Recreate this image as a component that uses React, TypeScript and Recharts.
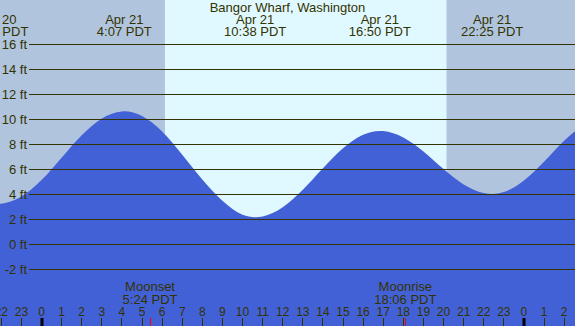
import React from 'react';
import { ComposedChart, Area, XAxis, YAxis, ReferenceArea, ReferenceLine } from 'recharts';

// ---------- data ----------
const tideHours = [-3, -2.2, -2, -1, 0, 1, 2, 3, 4, 4.12, 5, 6, 7, 8, 9, 10, 10.63, 11, 12, 13, 14, 15, 16, 16.83, 17, 18, 19, 20, 21, 22, 22.42, 23, 24, 25, 26, 27];
const tideFeet = [3.36, 3.25, 3.27, 3.84, 5.16, 6.95, 8.74, 10.09, 10.65, 10.66, 10.28, 9.04, 7.19, 5.2, 3.5, 2.39, 2.19, 2.25, 2.99, 4.39, 6.11, 7.71, 8.79, 9.09, 9.08, 8.56, 7.44, 6.04, 4.81, 4.12, 4.05, 4.2, 5.13, 6.63, 8.3, 9.64];

const eventHours = [-2.2, 4.12, 10.63, 16.83, 22.42];
const eventDates = ['Apr 20', 'Apr 21', 'Apr 21', 'Apr 21', 'Apr 21'];
const eventClocks = ['21:48 PDT', '4:07 PDT', '10:38 PDT', '16:50 PDT', '22:25 PDT'];

const moonHours = [5.4, 18.1];
const moonNames = ['Moonset', 'Moonrise'];
const moonClocks = ['5:24 PDT', '18:06 PDT'];

const hourTicks = [-2, -1, 0, 1, 2, 3, 4, 5, 6, 7, 8, 9, 10, 11, 12, 13, 14, 15, 16, 17, 18, 19, 20, 21, 22, 23, 24, 25, 26];
const hourLabels = ['22', '23', '0', '1', '2', '3', '4', '5', '6', '7', '8', '9', '10', '11', '12', '13', '14', '15', '16', '17', '18', '19', '20', '21', '22', '23', '0', '1', '2'];
const midnightHours = [0, 24];

const feetTicks = [16, 14, 12, 10, 8, 6, 4, 2, 0, -2];
const feetLabels = ['16 ft', '14 ft', '12 ft', '10 ft', '8 ft', '6 ft', '4 ft', '2 ft', '0 ft', '-2 ft'];

const sunrise = 6.14;
const sunset = 20.16;

// ---------- layout ----------
const W = 575;
const H = 326;
const X_MIN = -2.065;
const X_MAX = 26.54;
const Y_MIN = -6.52;
const Y_MAX = 19.56;
const GRID_START = -0.62;

const FONT = '"Liberation Sans", Arial, Helvetica, sans-serif';
const INK = '#333300';
const NIGHT = '#B0C4DE';
const DAY = '#E0F8FF';
const WATER = '#4361D6';

const data = tideHours.map((t, i) => ({ t, h: tideFeet[i] }));

const crisp = (x: number) => Math.round(x - 0.5) + 0.5;

const EventTick = (props: any) => {
  const { x, payload } = props;
  const i = eventHours.indexOf(payload.value);
  if (i < 0) return null;
  return (
    <g>
      <text x={x} y={24} textAnchor="middle" fontFamily={FONT} fontSize={13} fill={INK}>{eventDates[i]}</text>
      <text x={x} y={36} textAnchor="middle" fontFamily={FONT} fontSize={13} fill={INK}>{eventClocks[i]}</text>
    </g>
  );
};

const HourTick = (props: any) => {
  const { x, payload } = props;
  const i = hourTicks.indexOf(payload.value);
  if (i < 0) return null;
  const mid = midnightHours.includes(payload.value);
  const cx = mid ? Math.round(x) : crisp(x);
  return (
    <g>
      <line x1={cx} x2={cx} y1={318} y2={326} stroke={mid ? '#000000' : INK} strokeWidth={mid ? 3 : 1} />
      <text x={x} y={316} textAnchor="middle" fontFamily={FONT} fontSize={12} fill={INK}>{hourLabels[i]}</text>
    </g>
  );
};

const MoonTick = (props: any) => {
  const { x, payload } = props;
  const i = moonHours.indexOf(payload.value);
  if (i < 0) return null;
  const cx = crisp(x);
  return (
    <g>
      <line x1={cx} x2={cx} y1={318} y2={326} stroke="#FF0000" strokeWidth={1} />
      <text x={x} y={291} textAnchor="middle" fontFamily={FONT} fontSize={13} fill={INK}>{moonNames[i]}</text>
      <text x={x} y={303.5} textAnchor="middle" fontFamily={FONT} fontSize={13} fill={INK}>{moonClocks[i]}</text>
    </g>
  );
};

export default function App() {
  return (
    <div style={{ position: 'absolute', left: 0, top: 0, width: W, height: H, overflow: 'hidden', background: NIGHT }}>
      <ComposedChart width={W} height={H} data={data} margin={{ top: 0, right: 0, bottom: 0, left: 0 }}>
        <YAxis type="number" domain={[Y_MIN, Y_MAX]} allowDataOverflow hide />
        <XAxis
          dataKey="t"
          type="number"
          domain={[X_MIN, X_MAX]}
          allowDataOverflow
          orientation="bottom"
          mirror
          height={2}
          ticks={hourTicks}
          interval={0}
          tickLine={false}
          axisLine={false}
          tick={<HourTick />}
        />
        <XAxis
          xAxisId="ev"
          dataKey="t"
          type="number"
          domain={[X_MIN, X_MAX]}
          allowDataOverflow
          orientation="top"
          mirror
          height={2}
          ticks={eventHours}
          interval={0}
          tickLine={false}
          axisLine={false}
          tick={<EventTick />}
        />
        <XAxis
          xAxisId="moon"
          dataKey="t"
          type="number"
          domain={[X_MIN, X_MAX]}
          allowDataOverflow
          orientation="bottom"
          mirror
          height={2}
          ticks={moonHours}
          interval={0}
          tickLine={false}
          axisLine={false}
          tick={<MoonTick />}
        />
        <ReferenceArea x1={X_MIN} x2={sunrise} fill={NIGHT} fillOpacity={1} stroke="none" />
        <ReferenceArea x1={sunrise} x2={sunset} fill={DAY} fillOpacity={1} stroke="none" />
        <ReferenceArea x1={sunset} x2={X_MAX} fill={NIGHT} fillOpacity={1} stroke="none" />
        <Area
          dataKey="h"
          type="monotone"
          baseValue={Y_MIN}
          fill={WATER}
          fillOpacity={1}
          stroke="none"
          isAnimationActive={false}
          dot={false}
          activeDot={false}
        />
        {feetTicks.map((v, i) => (
          <ReferenceLine
            key={v}
            segment={[{ x: GRID_START, y: v }, { x: X_MAX, y: v }]}
            stroke={INK}
            strokeWidth={1}
            label={{ value: feetLabels[i], position: 'left', offset: 2, fill: INK, fontSize: 13, fontFamily: FONT }}
          />
        ))}
      </ComposedChart>
      <div
        style={{
          position: 'absolute',
          left: 0,
          top: 0,
          width: W,
          textAlign: 'center',
          fontFamily: FONT,
          fontSize: 13,
          lineHeight: '15px',
          color: INK,
        }}
      >
        Bangor Wharf, Washington
      </div>
    </div>
  );
}
